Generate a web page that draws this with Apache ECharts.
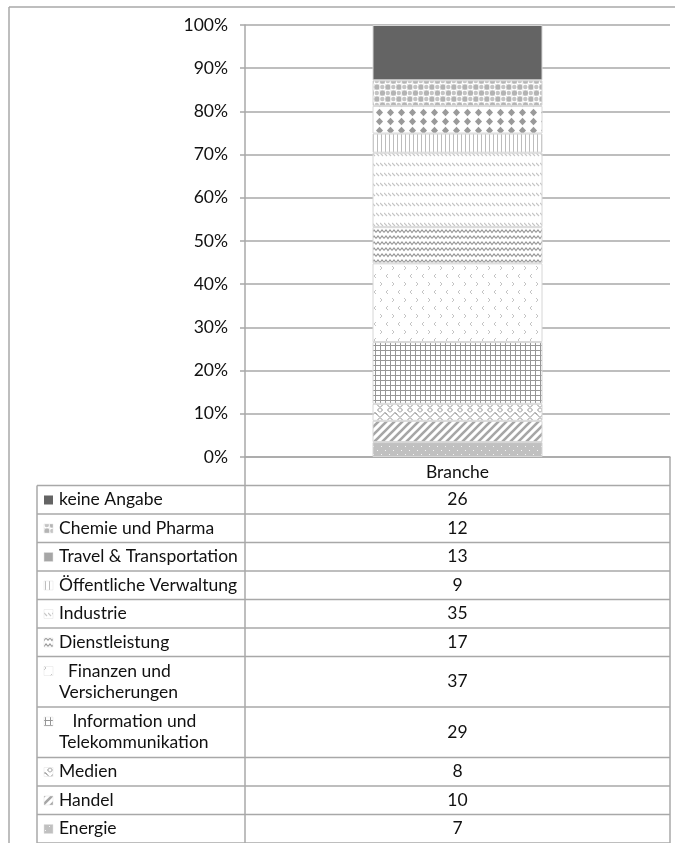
<!DOCTYPE html>
<html>
<head>
<meta charset="utf-8">
<script src="https://cdn.jsdelivr.net/npm/echarts@6/dist/echarts.min.js"></script>
<style>
  html, body { margin: 0; padding: 0; background: #fff; }
  #chart { width: 675px; height: 843px; }
</style>
</head>
<body>
<div id="chart"></div>
<script>
// Sector shares, stacked bottom-to-top in this order
const categories = ['Branche'];
const sectors = [
  'Energie', 'Handel', 'Medien', 'Information und Telekommunikation',
  'Finanzen und Versicherungen', 'Dienstleistung', 'Industrie',
  'Öffentliche Verwaltung', 'Travel & Transportation', 'Chemie und Pharma', 'keine Angabe'
];
const counts = [7, 10, 8, 29, 37, 17, 35, 9, 13, 12, 26];
// Row captions used in the data table (same order as sectors)
const tableLabels = [
  'Energie', 'Handel', 'Medien', '   Information und\nTelekommunikation',
  '  Finanzen und\nVersicherungen', 'Dienstleistung', 'Industrie',
  'Öffentliche Verwaltung', 'Travel & Transportation', 'Chemie und Pharma', 'keine Angabe'
];

const FONT = 'Lato';
const FONT_SIZE = 17.5;
const total = counts.reduce((a, b) => a + b, 0);

// ---- fill patterns -------------------------------------------------------
function tile(w, h, bg, draw) {
  const c = document.createElement('canvas');
  c.width = w; c.height = h;
  const g = c.getContext('2d');
  g.fillStyle = bg; g.fillRect(0, 0, w, h);
  draw(g, w, h);
  return c;
}
const patterns = [
  // Energie: grey with small white dots
  tile(8, 8, '#c0c0c0', g => {
    g.fillStyle = '#f4f4f4';
    g.fillRect(1, 2, 1, 1); g.fillRect(5, 6, 1, 1);
  }),
  // Handel: wide upward diagonal
  tile(8, 8, '#ffffff', g => {
    g.strokeStyle = '#a6a6a6'; g.lineWidth = 2.6;
    g.beginPath();
    g.moveTo(-2, 10); g.lineTo(10, -2);
    g.moveTo(-2, 2); g.lineTo(2, -2);
    g.moveTo(6, 10); g.lineTo(10, 6);
    g.stroke();
  }),
  // Medien: trellis zigzag
  tile(10, 10, '#ffffff', g => {
    g.strokeStyle = '#8e8e8e'; g.lineWidth = 1;
    g.beginPath();
    g.moveTo(0, 7.5); g.lineTo(5, 2.5); g.lineTo(10, 7.5);
    g.moveTo(5, 2.5); g.lineTo(7, 4.5);
    g.moveTo(0, 7.5); g.lineTo(2.5, 10);
    g.moveTo(10, 7.5); g.lineTo(7.5, 10);
    g.moveTo(2.5, 0); g.lineTo(0, 2.5);
    g.moveTo(7.5, 0); g.lineTo(10, 2.5);
    g.stroke();
  }),
  // Information und Telekommunikation: small grid
  tile(5, 5, '#ffffff', g => {
    g.fillStyle = '#969696';
    g.fillRect(0, 0, 5, 1); g.fillRect(0, 0, 1, 5);
  }),
  // Finanzen: sparse light chevrons
  tile(12, 16, '#ffffff', g => {
    g.strokeStyle = '#c4c4c4'; g.lineWidth = 1;
    g.beginPath();
    g.moveTo(4, 2); g.lineTo(2, 4); g.lineTo(4, 6);
    g.moveTo(8, 10); g.lineTo(10, 12); g.lineTo(8, 14);
    g.stroke();
  }),
  // Dienstleistung: horizontal waves
  tile(8, 6, '#ffffff', g => {
    g.strokeStyle = '#969696'; g.lineWidth = 1.1;
    g.beginPath();
    g.moveTo(0, 4.5); g.lineTo(2, 2); g.lineTo(4, 4.5); g.lineTo(6, 2); g.lineTo(8, 4.5);
    g.stroke();
  }),
  // Industrie: light dashed downward diagonals in rows
  tile(4, 10, '#ffffff', g => {
    g.strokeStyle = '#c6c6c6'; g.lineWidth = 1.2;
    g.beginPath();
    g.moveTo(0, 3); g.lineTo(3, 6);
    g.stroke();
  }),
  // Öffentliche Verwaltung: narrow vertical lines
  tile(4, 4, '#ffffff', g => {
    g.fillStyle = '#bdbdbd';
    g.fillRect(1, 0, 1, 4);
  }),
  // Travel & Transportation: diamonds
  tile(11, 9, '#ffffff', g => {
    g.fillStyle = '#9a9a9a';
    g.beginPath();
    g.moveTo(5.5, 0.8); g.lineTo(9, 4.5); g.lineTo(5.5, 8.2); g.lineTo(2, 4.5);
    g.closePath(); g.fill();
  }),
  // Chemie und Pharma: sphere checker
  tile(11, 12, '#e6e6e6', g => {
    g.fillStyle = '#b4b4b4';
    g.beginPath(); g.arc(3, 3, 2.6, 0, Math.PI * 2); g.fill();
    g.beginPath(); g.arc(8.5, 9, 2.6, 0, Math.PI * 2); g.fill();
    g.fillStyle = '#ffffff';
    g.fillRect(5.5, 0, 5.5, 6); g.fillRect(0, 6, 5.5, 6);
    g.fillStyle = '#c4c4c4';
    g.beginPath(); g.arc(8.3, 3, 2.2, 0, Math.PI * 2); g.fill();
    g.beginPath(); g.arc(2.8, 9, 2.2, 0, Math.PI * 2); g.fill();
  }),
  // keine Angabe: solid dark grey
  tile(4, 4, '#646464', () => {})
];
const fillOf = i => ({ image: patterns[i], repeat: 'repeat' });
// Table key swatches: pattern fill, except the diamond series which reads as flat grey
const keyFill = i => (sectors[i] === 'Travel & Transportation' ? '#a6a6a6' : fillOf(i));

// ---- series --------------------------------------------------------------
const series = sectors.map((name, i) => ({
  name,
  type: 'bar',
  stack: 'share',
  barWidth: '40%',
  data: [counts[i] / total * 100],
  itemStyle: { color: fillOf(i), borderColor: '#d6d6d6', borderWidth: 1 },
  emphasis: { disabled: true }
}));

// ---- data table under the plot ---------------------------------------------
const LINE = '#a8a8a8';
const colLeft = 37, colMid = 245, colRight = 670;
const tableTop = 485.5;
const graphics = [];
function hLine(y, x1, x2) {
  graphics.push({ type: 'line', silent: true,
    shape: { x1, y1: y, x2, y2: y }, style: { stroke: LINE, lineWidth: 1.5 } });
}
function vLine(x, y1, y2) {
  graphics.push({ type: 'line', silent: true,
    shape: { x1: x, y1, x2: x, y2 }, style: { stroke: LINE, lineWidth: 1.5 } });
}
// outer frame
hLine(7, 9, 675);
vLine(9, 7, 843);

let y = tableTop;
hLine(y, colLeft, colRight);
for (let r = sectors.length - 1; r >= 0; r--) {
  const label = tableLabels[r];
  const lines = label.split('\n').length;
  const h = lines > 1 ? 50.5 : 28.5;
  const mid = y + h / 2;
  // key swatch
  graphics.push({ type: 'rect', silent: true,
    shape: { x: 44, y: y + 10, width: 9, height: 9 },
    style: { fill: keyFill(r), stroke: r === 10 ? null : '#e0e0e0', lineWidth: 0.5 } });
  graphics.push({ type: 'text', silent: true,
    style: { text: label, x: 59, y: mid, verticalAlign: 'middle', align: 'left',
      font: FONT_SIZE + 'px ' + FONT, fill: '#111', lineHeight: 21 } });
  graphics.push({ type: 'text', silent: true,
    style: { text: String(counts[r]), x: (colMid + colRight) / 2, y: mid,
      verticalAlign: 'middle', align: 'center', font: FONT_SIZE + 'px ' + FONT, fill: '#111' } });
  y += h;
  hLine(y, colLeft, colRight);
}
vLine(colLeft, tableTop, 843);
vLine(colMid, 457, 843);
vLine(colRight, 457, 843);

// ---- chart ---------------------------------------------------------------
const chart = echarts.init(document.getElementById('chart'), null, { renderer: 'canvas' });
chart.setOption({
  animation: false,
  backgroundColor: '#ffffff',
  textStyle: { fontFamily: FONT },
  grid: { left: 245, right: 5, top: 25, bottom: 386, containLabel: false },
  xAxis: {
    type: 'category',
    data: categories,
    axisLine: { show: true, lineStyle: { color: LINE, width: 1.5 } },
    axisTick: { show: false },
    axisLabel: { color: '#111', fontSize: FONT_SIZE, fontFamily: FONT, margin: 6 }
  },
  yAxis: {
    type: 'value',
    min: 0, max: 100, interval: 10,
    axisLine: { show: true, lineStyle: { color: LINE, width: 1.5 } },
    axisTick: { show: true, length: 5, lineStyle: { color: LINE, width: 1.5 } },
    splitLine: { show: true, lineStyle: { color: LINE, width: 1.5 } },
    axisLabel: { color: '#111', fontSize: FONT_SIZE, fontFamily: FONT, margin: 17,
      formatter: '{value}%' }
  },
  series,
  graphic: { elements: graphics }
});
</script>
</body>
</html>
